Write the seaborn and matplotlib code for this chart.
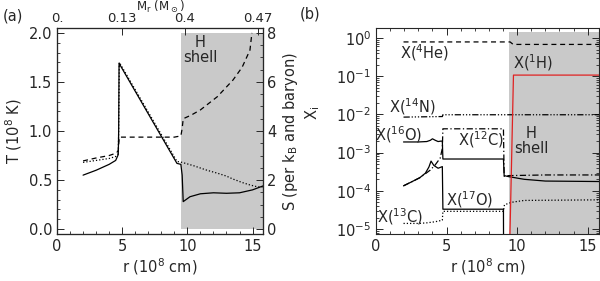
import numpy as np
import pandas as pd
import seaborn as sns
import matplotlib
matplotlib.use("Agg")
import matplotlib.pyplot as plt
from matplotlib.ticker import MultipleLocator, LogLocator, NullFormatter

sns.set_style("ticks")
plt.rcParams.update({
    "font.family": ["DejaVu Sans"],
    "mathtext.default": "regular",
    "font.size": 10.5,
    "axes.labelsize": 10.5,
    "xtick.labelsize": 10.5,
    "ytick.labelsize": 10.5,
    "axes.linewidth": 0.8,
    "xtick.direction": "in",
    "ytick.direction": "in",
    "xtick.major.size": 5,
    "ytick.major.size": 5,
    "xtick.minor.size": 2.5,
    "ytick.minor.size": 2.5,
    "xtick.major.width": 0.7,
    "ytick.major.width": 0.7,
    "xtick.minor.width": 0.6,
    "ytick.minor.width": 0.6,
})

GRAY = "#c9c9c9"
RED = "#e02222"
LW = 0.9
XMAX = 15.8
SHELL_A = 9.5
SHELL_B = 9.45

# ---- panel (a): temperature, second profile, entropy ----
r_temp = [2.0, 3.0, 4.0, 4.5, 4.7, 4.73, 4.76, 9.2, 9.5, 9.6, 9.68, 10.2,
          11.0, 12.0, 13.0, 14.0, 15.0, 15.8]
temp = [0.55, 0.60, 0.66, 0.70, 0.76, 1.00, 1.69, 0.67, 0.66, 0.55, 0.28,
        0.33, 0.36, 0.37, 0.365, 0.37, 0.40, 0.44]

r_dot = [2.0, 3.0, 4.0, 4.5, 4.7, 4.73, 4.78, 9.2, 9.6, 10.5, 11.5, 12.3,
         13.0, 13.5, 14.2, 14.8, 15.4, 15.8]
dot = [0.68, 0.70, 0.72, 0.74, 0.77, 1.00, 1.70, 0.69, 0.68, 0.645, 0.60,
       0.57, 0.54, 0.51, 0.475, 0.45, 0.43, 0.43]

r_ent = [2.0, 3.0, 4.0, 4.55, 4.7, 4.74, 4.78, 9.0, 9.5, 9.6, 9.68, 10.3,
         11.0, 12.3, 13.5, 14.2, 14.8, 14.95]
ent = [2.78, 2.9, 3.0, 3.1, 3.2, 3.5, 3.75, 3.75, 3.8, 4.1, 4.5, 4.65,
       4.86, 5.4, 6.08, 6.6, 7.3, 8.0]

mr_pos = [0.0, 5.0, 9.8, 15.4]
mr_labels = ["0.", "0.13", "0.4", "0.47"]

# ---- panel (b): mass fractions ----
r_he = [1.95, 9.5, 9.72, 15.8]
x_he = [0.79, 0.79, 0.68, 0.68]

r_h = [9.38, 9.74, 15.8]
x_h = [1e-7, 0.107, 0.107]

r_n14 = [1.95, 4.70, 4.74, 15.8]
x_n14 = [0.0085, 0.0088, 0.0098, 0.0098]

r_c12 = [1.95, 2.5, 3.1, 3.5, 3.85, 4.2, 4.55, 4.70, 4.74, 9.03, 9.08, 9.4,
         12.0, 15.8]
x_c12 = [1.35e-4, 1.7e-4, 2.2e-4, 2.8e-4, 3.5e-4, 4.8e-4, 7.2e-4, 1.3e-3,
         4.2e-3, 4.2e-3, 2.4e-4, 2.5e-4, 2.6e-4, 2.6e-4]

r_o16 = [1.95, 3.0, 3.6, 3.85, 4.0, 4.2, 4.4, 4.6, 4.70, 4.74, 9.03, 9.08,
         9.4, 10.5, 12.0, 15.8]
x_o16 = [1.9e-3, 1.9e-3, 1.95e-3, 2.1e-3, 2.3e-3, 2.1e-3, 1.95e-3, 2.0e-3,
         2.0e-3, 6.8e-4, 6.8e-4, 2.5e-4, 2.35e-4, 2.0e-4, 1.8e-4, 1.75e-4]

r_o17 = [1.95, 2.5, 3.1, 3.5, 3.75, 3.9, 4.1, 4.4, 4.70, 4.74, 9.03, 9.05]
x_o17 = [1.35e-4, 1.7e-4, 2.2e-4, 2.9e-4, 4.2e-4, 6.0e-4, 4.6e-4, 3.9e-4,
         4.3e-4, 3.3e-5, 3.3e-5, 1e-7]

r_c13 = [1.95, 3.0, 3.6, 4.2, 4.70, 4.74, 9.03, 9.1, 9.6, 10.5, 15.8]
x_c13 = [1.4e-5, 1.4e-5, 1.45e-5, 1.55e-5, 1.7e-5, 2.9e-5, 2.9e-5, 4.3e-5,
         5.0e-5, 5.6e-5, 5.8e-5]


def px(x, y):
    """pixel position in the 600x281 image -> figure fraction"""
    return x / 600.0, 1.0 - y / 281.0


def line(ax, x, y, ls="-", color="black"):
    sns.lineplot(x=x, y=y, ax=ax, estimator=None, sort=False,
                 color=color, linestyle=ls, linewidth=LW)


fig = plt.figure(figsize=(6.0, 2.81), dpi=100)

# ================= panel (a) =================
ax1 = fig.add_axes([57 / 600, 1 - 234 / 281, 206 / 600, 206 / 281])
ax1.fill_between([SHELL_A, XMAX], 0.0, 2.0, color=GRAY, lw=0, zorder=0)
line(ax1, r_temp, temp, "-")
line(ax1, r_dot, dot, (0, (1, 1.6)))
ax1.set_xlim(0, XMAX)
ax1.set_ylim(-0.05, 2.05)
ax1.xaxis.set_major_locator(MultipleLocator(5))
ax1.xaxis.set_minor_locator(MultipleLocator(1))
ax1.yaxis.set_major_locator(MultipleLocator(0.5))
ax1.yaxis.set_minor_locator(MultipleLocator(0.1))
ax1.yaxis.set_major_formatter(matplotlib.ticker.FormatStrFormatter("%.1f"))
ax1.set_xlabel("r (10$^8$ cm)", labelpad=2)
ax1.set_ylabel("T (10$^8$ K)", labelpad=3)
ax1.tick_params(which="both", top=False, right=False)

axS = ax1.twinx()
line(axS, r_ent, ent, (0, (4, 3)))
axS.set_ylim(-0.2, 8.2)
axS.yaxis.set_major_locator(MultipleLocator(2))
axS.yaxis.set_minor_locator(MultipleLocator(0.5))
axS.set_ylabel("S (per k$_B$ and baryon)", labelpad=3)
axS.tick_params(which="both", direction="in", pad=3)

axM = ax1.twiny()
axM.set_xlim(0, XMAX)
axM.set_xticks(mr_pos)
axM.set_xticklabels(mr_labels, fontsize=9.5)
axM.tick_params(direction="in", pad=2, length=5)
axM.set_xlabel("M$_r$ (M$_\\odot$)", fontsize=8.5, labelpad=1)

fig.text(*px(13, 16), "(a)", ha="center", va="center", fontsize=10.5)
fig.text(*px(200, 50), "H\nshell", ha="center", va="center",
         fontsize=10.5, linespacing=0.95)

# ================= panel (b) =================
ax2 = fig.add_axes([376 / 600, 1 - 234 / 281, 223 / 600, 206 / 281])
ax2.set_yscale("log")
ax2.fill_between([SHELL_B, XMAX], 1e-6, 1.4, color=GRAY, lw=0, zorder=0)
line(ax2, r_he, x_he, (0, (4, 3)))
line(ax2, r_n14, x_n14, (0, (5, 1.5, 1, 1.5, 1, 1.5, 1, 1.5)))
line(ax2, r_c12, x_c12, (0, (5, 2, 1, 2)))
line(ax2, r_o16, x_o16, "-")
line(ax2, r_o17, x_o17, "-")
line(ax2, r_c13, x_c13, (0, (1, 1.6)))
line(ax2, r_h, x_h, "-", color=RED)
ax2.set_xlim(0, XMAX)
ax2.set_ylim(7.4e-6, 1.83)
ax2.xaxis.set_major_locator(MultipleLocator(5))
ax2.xaxis.set_minor_locator(MultipleLocator(1))
ax2.yaxis.set_major_locator(LogLocator(base=10, numticks=10))
ax2.yaxis.set_minor_locator(LogLocator(base=10, subs=np.arange(2, 10),
                                       numticks=20))
ax2.yaxis.set_minor_formatter(NullFormatter())
ax2.tick_params(which="both", top=True, right=True)
ax2.set_xlabel("r (10$^8$ cm)", labelpad=2)
ax2.set_ylabel("")

fig.text(*px(313, 113), "X$_i$", ha="center", va="center", rotation=90,
         fontsize=10.5)
fig.text(*px(310, 14), "(b)", ha="center", va="center", fontsize=10.5)

labels_b = [
    (425, 53, "X($^4$He)"),
    (533, 63, "X($^1$H)"),
    (412, 107, "X($^{14}$N)"),
    (399, 135, "X($^{16}$O)"),
    (481, 140, "X($^{12}$C)"),
    (470, 200, "X($^{17}$O)"),
    (400, 217, "X($^{13}$C)"),
]
for x, y, s in labels_b:
    fig.text(*px(x, y), s, ha="center", va="center", fontsize=10.5)
fig.text(*px(531, 141), "H\nshell", ha="center", va="center",
         fontsize=10.5, linespacing=0.95)

fig.savefig("out.png", dpi=100)
